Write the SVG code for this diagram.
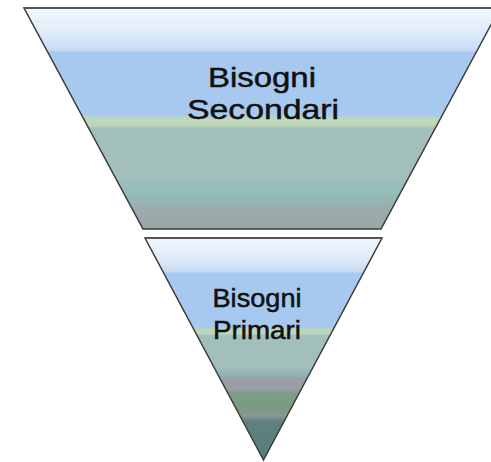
<svg xmlns="http://www.w3.org/2000/svg" width="491" height="462" viewBox="0 0 491 462">
<defs>
<linearGradient id="gTop" gradientUnits="userSpaceOnUse" x1="0" y1="8" x2="0" y2="229">
<stop offset="0" stop-color="#f2f7fd"/>
<stop offset="0.1" stop-color="#e2edfa"/>
<stop offset="0.19" stop-color="#c9dcf4"/>
<stop offset="0.2" stop-color="#a8c9ef"/>
<stop offset="0.48" stop-color="#a8c9ef"/>
<stop offset="0.5" stop-color="#bcd6c2"/>
<stop offset="0.53" stop-color="#c0d6b4"/>
<stop offset="0.545" stop-color="#a3bfbc"/>
<stop offset="0.76" stop-color="#a3bfbc"/>
<stop offset="0.84" stop-color="#91bdb8"/>
<stop offset="0.9" stop-color="#9aaeae"/>
<stop offset="1" stop-color="#9ca4a8"/>
</linearGradient>
<linearGradient id="gBot" gradientUnits="userSpaceOnUse" x1="0" y1="238" x2="0" y2="460">
<stop offset="0" stop-color="#f2f7fd"/>
<stop offset="0.08" stop-color="#e2edfa"/>
<stop offset="0.15" stop-color="#c9dcf4"/>
<stop offset="0.16" stop-color="#a8c9ef"/>
<stop offset="0.4" stop-color="#a8c9ef"/>
<stop offset="0.415" stop-color="#c0d6b4"/>
<stop offset="0.43" stop-color="#bcd6c2"/>
<stop offset="0.44" stop-color="#a3bfbc"/>
<stop offset="0.58" stop-color="#a3bfbc"/>
<stop offset="0.61" stop-color="#90b4b4"/>
<stop offset="0.64" stop-color="#9a9ea8"/>
<stop offset="0.68" stop-color="#9a9ea6"/>
<stop offset="0.7" stop-color="#7c9c84"/>
<stop offset="0.77" stop-color="#7a9a82"/>
<stop offset="0.8" stop-color="#8a9898"/>
<stop offset="0.83" stop-color="#5e807e"/>
<stop offset="1" stop-color="#5a7c7a"/>
</linearGradient>
</defs>
<style>
.shape{stroke:#3a3a3a;stroke-width:1.5;stroke-linejoin:miter}
.lbl{font-family:"Liberation Sans",Arial,sans-serif;fill:#111111;stroke:#111111;stroke-width:0.5;text-anchor:middle}
</style>
<rect x="0" y="0" width="491" height="462" fill="#ffffff"/>
<g id="secondari">
<polygon class="shape" points="24,8 500,8 381,229 143,229" fill="url(#gTop)"/>
<line x1="24" y1="8" x2="491" y2="8" stroke="#555555" stroke-width="2"/>
<text class="lbl" x="262" y="87" font-size="28.5" textLength="108" lengthAdjust="spacingAndGlyphs">Bisogni</text>
<text class="lbl" x="263" y="118.5" font-size="28.5" textLength="152" lengthAdjust="spacingAndGlyphs">Secondari</text>
</g>
<g id="primari">
<polygon class="shape" points="145,238 382,238 263.5,460" fill="url(#gBot)"/>
<line x1="145" y1="238" x2="382" y2="238" stroke="#555555" stroke-width="2"/>
<text class="lbl" x="257" y="307" font-size="25" textLength="89" lengthAdjust="spacingAndGlyphs">Bisogni</text>
<text class="lbl" x="257" y="339" font-size="25" textLength="88" lengthAdjust="spacingAndGlyphs">Primari</text>
</g>
<g id="connectors"/>
</svg>
